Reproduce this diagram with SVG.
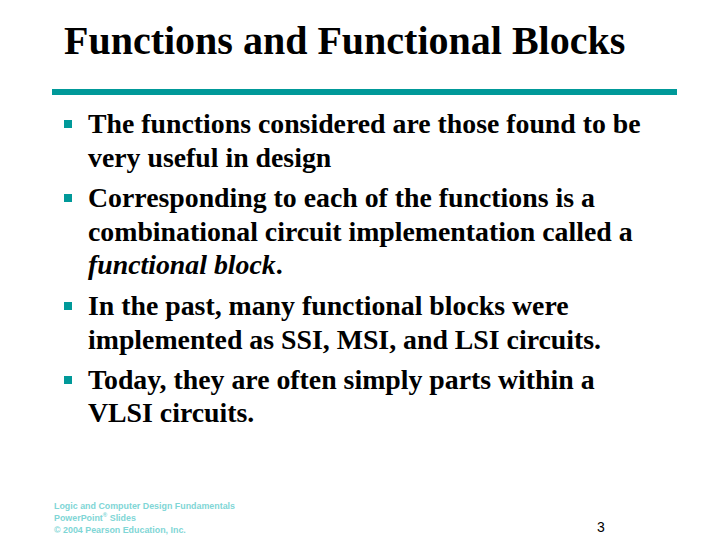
<svg xmlns="http://www.w3.org/2000/svg" width="720" height="540" viewBox="0 0 720 540">
<style>
.t{font-family:"Liberation Serif",serif;font-weight:bold;font-size:27.8px;fill:#000}
.b{fill:#009999}
.f{font-family:"Liberation Sans",sans-serif;font-size:8.9px;font-weight:bold;fill:#7fd6d6}
</style>
<rect width="720" height="540" fill="#fff"/>
<text x="64" y="54" font-family="Liberation Serif,serif" font-weight="bold" font-size="40" fill="#000">Functions and Functional Blocks</text>
<rect x="52" y="89" width="625" height="6" fill="#009999"/>
<g id="bullets">
<rect class="b" x="64" y="120" width="8" height="8"/>
<rect class="b" x="64" y="194" width="8" height="8"/>
<rect class="b" x="64" y="302" width="8" height="8"/>
<rect class="b" x="64" y="376" width="8" height="8"/>
</g>
<text class="t" x="88" y="133">The functions considered are those found to be</text>
<text class="t" x="88" y="167">very useful  in design</text>
<text class="t" x="88" y="207">Corresponding to each of the functions is a</text>
<text class="t" x="88" y="241">combinational circuit implementation called a</text>
<text class="t" x="88" y="274"><tspan font-style="italic">functional block</tspan>.</text>
<text class="t" x="88" y="315">In the past, many functional blocks were</text>
<text class="t" x="88" y="349">implemented as SSI, MSI, and LSI circuits.</text>
<text class="t" x="88" y="389">Today, they are often simply parts within a</text>
<text class="t" x="88" y="422">VLSI circuits.</text>
<text class="f" x="54" y="509">Logic and Computer Design Fundamentals</text>
<text class="f" x="54" y="521">PowerPoint<tspan font-size="6" dy="-4">®</tspan><tspan dy="4"> Slides</tspan></text>
<text class="f" x="54" y="533">© 2004 Pearson Education, Inc.</text>
<text x="597" y="532" font-family="Liberation Sans,sans-serif" font-size="14" fill="#000">3</text>
</svg>
